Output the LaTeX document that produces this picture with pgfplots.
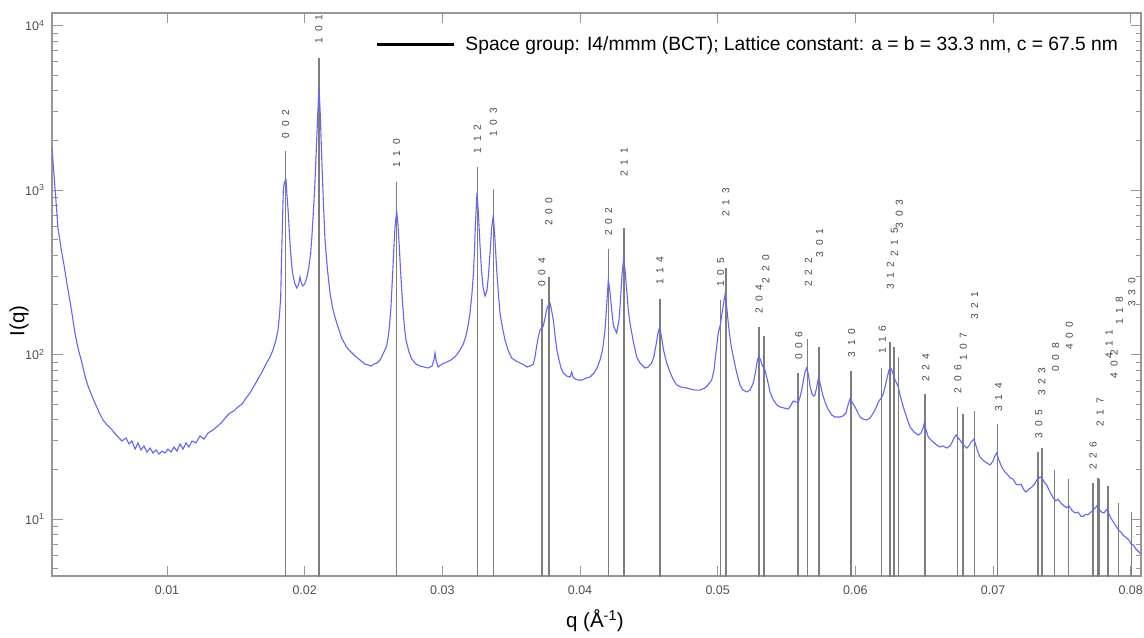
\documentclass[border=0pt]{standalone}
\usepackage{fontspec}
\setmainfont{Liberation Sans}
\usepackage{pgfplots}
\usepackage{pgfplotstable}
\pgfplotsset{compat=1.18}
\definecolor{curveblue}{RGB}{100,100,245}
\definecolor{refgray}{RGB}{125,125,125}
\definecolor{axisgray}{RGB}{150,150,150}
\definecolor{labgray}{RGB}{80,80,80}
\definecolor{hklgray}{RGB}{70,70,70}
\newcommand{\hkl}[3]{#1\hspace{0.55em}#2\hspace{0.55em}#3}
\tikzset{hkllab/.style={rotate=90, anchor=west, inner sep=0pt, font=\fontsize{10.2}{12}\selectfont, text=hklgray}}

\pgfplotstableread{
q I
0.001647 1800
0.001865 1028
0.002083 587.5
0.002301 444.1
0.002518 350.0
0.002736 268.3
0.002954 211.5
0.003172 162.1
0.003317 135.1
0.003535 109.5
0.003826 88.8
0.004044 74.0
0.004262 64.3
0.004552 55.9
0.004770 50.7
0.005061 44.7
0.005351 40.0
0.005642 37.3
0.006005 34.8
0.006368 32.0
0.006731 29.8
0.007022 31.1
0.007240 28.6
0.007458 29.8
0.007676 26.6
0.007894 29.0
0.008111 26.3
0.008329 27.8
0.008547 25.5
0.008765 27.0
0.008983 25.2
0.009201 26.3
0.009419 24.8
0.009637 25.9
0.009855 25.2
0.010073 26.6
0.010291 25.5
0.010508 27.4
0.010726 25.9
0.010944 28.6
0.011162 26.6
0.011380 29.0
0.011598 27.4
0.011816 29.8
0.012107 29.0
0.012397 32.0
0.012688 30.6
0.012978 33.3
0.013341 34.8
0.013705 36.8
0.013995 38.9
0.014286 41.7
0.014576 44.1
0.014867 45.4
0.015157 48.0
0.015448 50.0
0.015738 54.4
0.016029 58.3
0.016319 64.3
0.016610 71.0
0.016901 78.3
0.017191 87.5
0.017482 96.6
0.017700 106.5
0.017917 122.5
0.018063 140.9
0.018172 173.9
0.018259 223.6
0.018317 375.4
0.018375 571.3
0.018448 1000
0.018535 1119
0.018644 1150
0.018716 932
0.018811 724.7
0.018898 532.5
0.018985 414.0
0.019080 335.7
0.019174 295.9
0.019298 268.3
0.019421 253.7
0.019552 264.6
0.019661 295.9
0.019755 272.1
0.019857 260.9
0.020002 268.3
0.020147 291.7
0.020293 335.7
0.020438 414.0
0.020532 532.5
0.020627 724.7
0.020729 1028
0.020823 1587
0.020932 2665
0.021041 4227
0.021135 2856
0.021237 1587
0.021353 870
0.021477 496.6
0.021658 326.4
0.021840 236.5
0.022058 186.5
0.022327 155.4
0.022690 126.0
0.023002 112.6
0.023293 105.0
0.023656 97.9
0.024019 92.6
0.024382 87.5
0.024600 86.4
0.024818 85.1
0.025036 87.5
0.025254 88.8
0.025472 92.6
0.025690 100.7
0.025958 112.6
0.026075 129.6
0.026162 149.0
0.026271 197.2
0.026394 313.0
0.026489 463.0
0.026561 595.9
0.026685 745.3
0.026779 612.7
0.026874 450.3
0.026997 291.7
0.027121 200.0
0.027251 144.9
0.027360 122.5
0.027578 103.6
0.027774 93.9
0.028087 87.5
0.028377 85.1
0.028668 83.9
0.028958 82.8
0.029249 85.1
0.029394 92.6
0.029467 102.1
0.029576 90.0
0.029706 83.9
0.029975 87.5
0.030317 90.0
0.030629 92.6
0.031043 99.3
0.031283 106.5
0.031522 115.8
0.031718 129.6
0.031864 149.0
0.032009 178.8
0.032154 236.5
0.032249 304.3
0.032336 431.8
0.032409 639.0
0.032517 959
0.032626 704.7
0.032735 463.0
0.032844 326.4
0.032953 257.3
0.033099 226.8
0.033244 246.7
0.033353 304.3
0.033462 414.0
0.033571 571.3
0.033701 704.7
0.033825 496.6
0.033948 326.4
0.034079 230.0
0.034188 178.8
0.034370 144.9
0.034551 122.5
0.034769 106.5
0.035038 95.2
0.035350 91.3
0.035641 88.8
0.035931 86.4
0.036149 83.9
0.036367 85.1
0.036607 87.5
0.036730 96.6
0.036854 112.6
0.036985 129.6
0.037094 140.9
0.037217 144.9
0.037333 149.0
0.037457 166.7
0.037602 191.8
0.037747 202.8
0.037820 205.6
0.037929 186.5
0.038060 162.1
0.038183 131.4
0.038307 108.0
0.038474 92.6
0.038619 82.8
0.038786 77.2
0.039033 74.0
0.039273 73.0
0.039396 78.3
0.039491 73.0
0.039636 71.0
0.039876 70.0
0.040144 70.0
0.040435 71.9
0.040725 73.0
0.041016 77.2
0.041234 82.8
0.041452 92.6
0.041633 106.5
0.041815 140.9
0.041939 200.0
0.042055 283.8
0.042178 239.9
0.042302 186.5
0.042432 149.0
0.042665 135.1
0.042832 162.1
0.042941 214.5
0.043050 304.3
0.043173 386.0
0.043268 326.4
0.043391 246.7
0.043507 186.5
0.043631 155.4
0.043849 122.5
0.044118 96.6
0.044357 88.8
0.044721 82.8
0.044938 83.9
0.045207 88.8
0.045374 97.9
0.045520 114.2
0.045665 135.1
0.045788 146.9
0.045919 127.8
0.046064 106.5
0.046297 88.8
0.046536 78.3
0.046754 71.0
0.047023 65.3
0.047335 63.4
0.047749 62.6
0.047989 61.7
0.048352 60.8
0.048716 60.8
0.049079 62.6
0.049297 65.3
0.049565 70.0
0.049732 80.5
0.049878 103.6
0.050045 135.1
0.050190 151.1
0.050350 186.5
0.050531 230.0
0.050677 186.5
0.050822 140.9
0.050967 114.2
0.051134 96.6
0.051367 78.3
0.051621 65.3
0.051839 60.8
0.052108 59.2
0.052347 60.8
0.052587 67.1
0.052747 78.3
0.052856 90.0
0.052979 97.9
0.053110 92.6
0.053255 85.1
0.053437 80.5
0.053582 71.9
0.053800 59.2
0.054040 52.9
0.054309 49.3
0.054527 48.0
0.054817 47.3
0.055129 46.6
0.055325 49.3
0.055493 52.2
0.055689 51.4
0.055856 51.4
0.055979 55.1
0.056103 60.8
0.056233 70.0
0.056342 78.3
0.056466 82.8
0.056597 75.1
0.056706 64.3
0.056829 58.3
0.056960 55.9
0.057069 56.7
0.057178 62.6
0.057338 73.0
0.057468 65.3
0.057614 57.5
0.057795 51.4
0.058013 46.6
0.058282 42.9
0.058522 41.7
0.058885 41.7
0.059103 42.3
0.059321 44.1
0.059466 49.3
0.059611 53.6
0.059756 51.4
0.059974 48.0
0.060192 44.1
0.060337 41.7
0.060555 40.5
0.060824 40.0
0.061064 41.1
0.061304 44.1
0.061500 47.3
0.061667 51.4
0.061914 55.1
0.062044 58.3
0.062153 63.4
0.062299 71.9
0.062444 80.5
0.062567 82.8
0.062698 78.3
0.062880 70.0
0.063025 66.2
0.063119 63.4
0.063243 56.7
0.063483 48.0
0.063715 41.7
0.063969 36.3
0.064260 33.8
0.064572 32.4
0.064768 33.3
0.064914 35.7
0.065008 38.3
0.065132 34.8
0.065299 31.5
0.065567 29.8
0.065909 28.2
0.066148 27.4
0.066366 27.8
0.066635 27.0
0.066875 27.8
0.066998 29.0
0.067165 31.1
0.067311 32.4
0.067456 31.1
0.067601 30.2
0.067841 28.2
0.068088 27.0
0.068255 27.8
0.068400 29.4
0.068618 30.6
0.068763 27.8
0.068909 25.5
0.069054 23.8
0.069344 22.5
0.069562 21.9
0.069780 21.3
0.069998 22.5
0.070143 24.2
0.070267 25.2
0.070398 23.2
0.070630 20.7
0.070870 19.3
0.071088 18.5
0.071233 17.8
0.071451 17.5
0.071669 16.3
0.071836 16.1
0.072032 16.3
0.072250 15.0
0.072395 14.6
0.072613 15.2
0.072809 15.6
0.073013 16.3
0.073194 17.3
0.073412 18.0
0.073557 17.8
0.073703 16.8
0.073899 16.1
0.074066 15.0
0.074211 14.2
0.074378 13.4
0.074574 12.9
0.074720 13.2
0.074938 12.5
0.075155 12.0
0.075352 11.7
0.075519 12.0
0.075737 11.3
0.075954 10.9
0.076172 11.0
0.076390 10.4
0.076557 10.4
0.076753 10.7
0.076899 10.6
0.077044 10.9
0.077262 11.3
0.077531 12.0
0.077698 11.5
0.077894 11.0
0.078061 10.9
0.078301 11.5
0.078424 10.7
0.078569 10.1
0.078787 9.46
0.078933 9.07
0.079100 8.58
0.079296 8.34
0.079441 7.99
0.079710 7.66
0.079877 7.45
0.080022 7.05
0.080189 6.95
0.080385 6.57
0.080531 6.39
0.080748 6.13
}\curvedata

\pgfplotstableread{
q I
0.0186168 1734
0.021039 6370
0.026684 1113
0.032536 1386
0.033702 1018
0.0372336 217
0.0377366 297
0.042078 438
0.043205 588
0.045808 218
0.050221 214
0.050595 334
0.053013 147
0.053368 129
0.0558504 76.9
0.056521 125
0.057365 111
0.059666 79.8
0.061898 82.5
0.062503 119
0.062819 111
0.063117 97
0.065072 57.3
0.067404 47.8
0.067836 43.3
0.068665 45.5
0.070331 37.6
0.073282 25.6
0.073539 27.1
0.0744672 20.0
0.0754732 17.5
0.077248 16.5
0.077625 17.7
0.077735 17.5
0.078351 15.9
0.079103 12.5
0.080051 11.1
}\refldata

\begin{document}
\begin{tikzpicture}
\begin{axis}[
  name=ax,
  width=1089pt, height=563pt, scale only axis,
  ymode=log,
  xmin=0.001647, xmax=0.080748,
  ymin=4.503, ymax=11912,
  scaled x ticks=false,
  xtick={0.01,0.02,0.03,0.04,0.05,0.06,0.07,0.08},
  xticklabels={0.01,0.02,0.03,0.04,0.05,0.06,0.07,0.08},
  minor xtick={},
  ytick={10,100,1000,10000},
  yticklabels={10\textsuperscript{1},10\textsuperscript{2},10\textsuperscript{3},10\textsuperscript{4}},
  minor ytick={5,6,7,8,9,20,30,40,50,60,70,80,90,200,300,400,500,600,700,800,900,2000,3000,4000,5000,6000,7000,8000,9000},
  tick align=inside,
  major tick length=10.5pt,
  minor tick length=5.5pt,
  tick style={axisgray, line width=1pt},
  axis line style={axisgray, line width=1.2pt},
  tick label style={font=\fontsize{12.5}{14}\selectfont, text=labgray},
  xticklabel style={yshift=-6pt},
  yticklabel style={xshift=-4pt},
  xlabel={q (Å\textsuperscript{-1})},
  ylabel={I(q)},
  xlabel style={at={(axis description cs:0.4986,-0.080)}, anchor=center, font=\fontsize{20.5}{24}\selectfont},
  ylabel style={at={(axis description cs:-0.0303,0.4529)}, anchor=center, font=\fontsize{20.5}{24}\selectfont},
  legend style={at={(0.97888,0.94405)}, anchor=east, draw=none, fill=none, inner sep=0pt, outer sep=0pt, font=\fontsize{19.25}{22}\selectfont, column sep=10pt, nodes={inner sep=0pt}},
  legend image code/.code={\draw[#1] (0pt,0pt) -- (77pt,0pt);},
]
\addplot[ycomb, refgray, line width=1.5pt, forget plot] table[x=q,y=I] {\refldata};
\addplot[curveblue, line width=1.1pt, forget plot] table[x=q,y=I] {\curvedata};
\addlegendimage{black, line width=2.7pt}
\addlegendentry{Space group: I4/mmm (BCT); Lattice constant: a = b = 33.3 nm, c = 67.5 nm}

\node[hkllab] at (axis cs:0.0186168,2062) {\hkl002};
\node[hkllab] at (axis cs:0.021039,7796) {\hkl101};
\node[hkllab] at (axis cs:0.026684,1366) {\hkl110};
\node[hkllab] at (axis cs:0.032536,1672) {\hkl112};
\node[hkllab] at (axis cs:0.033702,2109) {\hkl103};
\node[hkllab] at (axis cs:0.0372336,258.4) {\hkl004};
\node[hkllab] at (axis cs:0.0377366,604.2) {\hkl200};
\node[hkllab] at (axis cs:0.042078,525.3) {\hkl202};
\node[hkllab] at (axis cs:0.043205,1205) {\hkl211};
\node[hkllab] at (axis cs:0.045808,264.6) {\hkl114};
\node[hkllab] at (axis cs:0.050221,258.4) {\hkl105};
\node[hkllab] at (axis cs:0.050595,688.1) {\hkl213};
\node[hkllab] at (axis cs:0.053013,178.1) {\hkl204};
\node[hkllab] at (axis cs:0.053500,270.9) {\hkl220};
\node[hkllab] at (axis cs:0.0559,92.6) {\hkl006};
\node[hkllab] at (axis cs:0.05659,258.4) {\hkl222};
\node[hkllab] at (axis cs:0.05741,389.8) {\hkl301};
\node[hkllab] at (axis cs:0.05972,96.2) {\hkl310};
\node[hkllab] at (axis cs:0.06196,100.7) {\hkl116};
\node[hkllab] at (axis cs:0.06255,246.7) {\hkl312};
\node[hkllab] at (axis cs:0.06284,393.1) {\hkl215};
\node[hkllab] at (axis cs:0.06319,585.1) {\hkl303};
\node[hkllab] at (axis cs:0.06512,68.3) {\hkl224};
\node[hkllab] at (axis cs:0.06745,58.1) {\hkl206};
\node[hkllab] at (axis cs:0.06784,91.3) {\hkl107};
\node[hkllab] at (axis cs:0.068665,162.1) {\hkl321};
\node[hkllab] at (axis cs:0.07040,44.9) {\hkl314};
\node[hkllab] at (axis cs:0.07333,30.9) {\hkl305};
\node[hkllab] at (axis cs:0.073539,55.9) {\hkl323};
\node[hkllab] at (axis cs:0.07454,78.6) {\hkl008};
\node[hkllab] at (axis cs:0.07555,106.5) {\hkl400};
\node[hkllab] at (axis cs:0.07727,19.9) {\hkl226};
\node[hkllab] at (axis cs:0.07777,36.4) {\hkl217};
\node[hkllab] at (axis cs:0.07879,71.7) {\hkl402};
\node[hkllab] at (axis cs:0.07843,94.8) {\hkl411};
\node[hkllab] at (axis cs:0.07917,151.1) {\hkl118};
\node[hkllab] at (axis cs:0.08008,195.3) {\hkl330};
\end{axis}
\pgfresetboundingbox
\useasboundingbox ([shift={(-52pt,-61pt)}]ax.south west) rectangle ([shift={(3pt,13pt)}]ax.north east);
\end{tikzpicture}
\end{document}
